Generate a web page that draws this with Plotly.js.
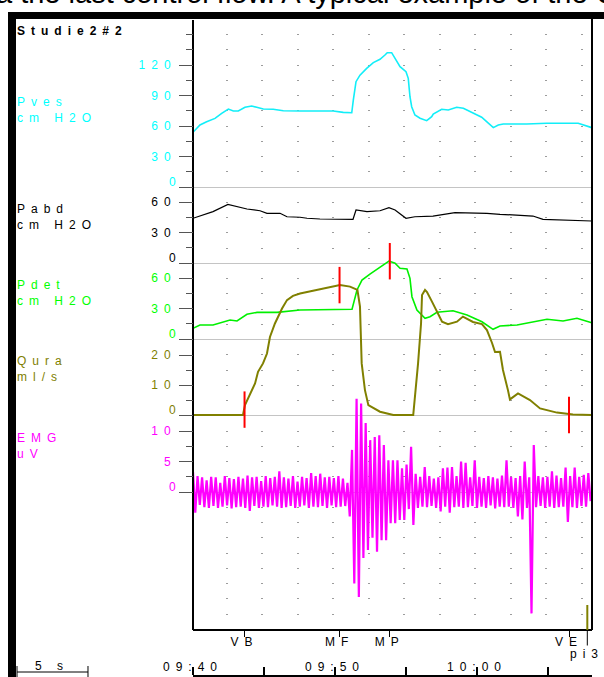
<!DOCTYPE html>
<html><head><meta charset="utf-8">
<script src="https://cdn.plot.ly/plotly-3.0.1.min.js"></script>
<style>
html,body{margin:0;padding:0;background:#fff;overflow:hidden;}
#chart{width:604px;height:677px;}
.main-svg text{letter-spacing:6px;}
.annotation[data-index="0"] text{letter-spacing:0px !important;}
</style></head><body><div id="chart"></div>
<script>
// ---------------- DATA ----------------
const channelNames = ['Pves', 'Pabd', 'Pdet', 'Qura', 'EMG'];
const channelUnits = ['cm H2O', 'cm H2O', 'cm H2O', 'ml/s', 'uV'];

const pvesT = [0,0.49,0.96,1.55,2.02,2.49,2.84,3.19,3.66,4.13,4.49,4.95,5.65,6.36,7.54,8.94,9.88,10.58,11.06,11.18,11.29,11.48,11.76,12.23,12.70,13.17,13.52,13.68,13.99,14.23,14.58,15.00,15.16,15.28,15.40,15.63,15.99,16.46,16.81,16.92,17.51,17.98,18.57,19.04,19.74,20.33,20.68,21.15,21.50,21.85,23.50,24.91,27.13,27.73,28.08];
const pvesV = [53.8,61,64.2,67.5,72.5,76.7,74.8,74.8,78.4,79.7,78.4,76.7,76.4,75,74.8,74.8,74.8,73.4,72.5,73,85.5,103.6,110,116.7,122.3,125.6,129.8,132.1,132.1,126.6,118.3,113.4,106.9,88.8,79,70.8,67.6,65.2,69.1,71.8,76.4,75.7,78.4,77.4,72.5,68.6,64.3,58.4,61,62,62,62.7,62.7,60,58.4];

const pabdT = [0,0.49,1.41,2.46,3.31,3.80,4.72,5.21,6.13,6.62,7.54,8.03,8.94,9.86,11.06,11.27,11.48,12.25,13.17,13.80,14.23,14.70,15.00,15.63,16.90,18.45,20.70,21.62,23.94,24.65,27.04,28.08];
const pabdV = [44,46.2,50.5,57.7,54.4,53.1,51.4,48.9,48.9,45.5,45,44,43.3,43.3,43,43,52.1,50.5,51.4,54.4,52.1,47.2,44,45.5,46.2,49.5,48.9,47.9,46.2,43,42.3,41.3];

const pdetT = [0,0.49,1.41,2.61,3.10,3.80,4.51,5.92,7.54,11.06,11.20,11.55,11.90,12.46,13.17,13.80,14.23,14.58,15.07,15.28,15.42,15.77,16.34,16.69,17.18,17.89,18.31,19.30,20.35,21.13,21.62,22.82,24.93,26.06,27.04,28.08];
const pdetV = [10.5,13.8,13.8,18.7,17.7,24.3,26.2,26.2,28.5,29.2,29.2,48.2,58,63.9,70.5,76.7,74.5,69.5,68.9,59.7,41.6,28.5,20.4,21.9,26.3,26.9,27.8,23.6,17,9.5,12.8,13.8,19.4,17.7,20.4,16];

const quraT = [0,3.52,3.66,4.01,4.37,4.58,4.93,5.21,5.42,5.77,6.27,6.62,7.04,7.54,8.03,9.08,10.35,11.06,11.58,11.76,11.88,12.11,12.35,13.17,14.11,15.51,15.70,15.85,16.06,16.13,16.34,16.48,16.83,17.18,17.54,17.96,18.59,19.01,19.72,20.35,20.70,21.06,21.27,21.62,21.83,22.18,22.32,22.89,23.73,24.44,25.63,26.76,28.08];
const quraV = [0,0,3.3,6.7,10.5,14.4,17.2,20.5,26,30.5,35.5,38.3,39.7,40.5,41,42.2,43.3,42.8,41.7,36.1,17.2,8.3,3.3,1.1,0,0,8.9,17.2,30.5,40,41.7,41,37.8,34.4,31.1,30.3,31.1,32.8,31,30.3,28.3,24,21,21.1,15,8.3,5.2,7.2,5,2.2,0.8,0.2,0];

// EMG sampled signal: first sample time and sample interval (s)
const emgStartT = 0;
const emgSampleDt = 0.16;
const emgV = [3.3,-3.4,2.6,-2.1,2.4,-2.5,1.9,-2.6,2.5,-2.3,
  2.4,-2.6,1.5,-2.4,2.6,-2.2,2.3,-2.7,2.1,-2.5,
  2.5,-2.4,2.2,-2.6,2.7,-3.1,2.4,-2.3,2.5,-2.6,
  1.8,-2.4,2.6,-2.5,2.3,-2.2,2.5,-2.4,3.4,-2.6,
  2.4,-2.5,2.2,-2.3,2.6,-2.6,1.7,-2.4,2.5,-2.2,
  2.3,-2.6,3.1,-2.4,2.6,-2.5,3.0,-2.3,2.4,-2.6,
  2.5,-2.2,2.3,-2.5,2.6,-2.4,2.2,-2.3,
  1.5,-4.0,6.9,-15.0,15.3,-17.2,14.5,-10.8,11.3,-9.5,
  8.5,-7.5,9.0,-9.8,9.3,-7.9,7.7,-7.9,5.2,-5.1,
  5.2,-5.1,5.2,-4.6,3.9,-4.6,4.5,-2.8,7.4,-5.4,
  3.0,-2.6,
  2.5,-2.4,4.1,-2.5,2.6,-2.3,2.2,-2.6,2.4,-3.2,
  3.9,-2.4,4.0,-3.4,4.1,-2.5,2.6,-2.4,5.0,-2.6,
  4.8,-2.5,2.4,-2.3,5.2,-2.6,2.5,-2.4,2.3,-2.6,
  2.6,-2.2,2.4,-2.7,2.2,-2.4,2.7,-2.5,5.2,-2.4,
  2.5,-2.6,2.3,-4.0,2.6,-4.5,5.0,-2.6,2.4,-19.9,
  7.7,-2.5,2.6,-2.3,2.4,-2.6,2.5,-2.4,3.4,-2.6,
  2.7,-2.5,2.3,-2.4,4.0,-4.9,2.6,-2.5,4.0,-2.6,
  2.5,-2.3,2.8,-2.4,3.1,-1.5];

const eventNames = ['VB', 'MF', 'MP', 'VE'];
const eventTimes = [3.63, 10.32, 13.86, 26.48];
const eventChannel = ['Qura', 'Qura', 'Pdet', 'Qura'];
const eventValue = [1.8, 43.3, 76.5, 0];
const extraMarkName = 'pi3';
const extraMarkTime = 27.77;

const timeTickVals = [0, 5, 10, 15, 20, 25];
const timeTickText = ['09:40', '', '09:50', '', '10:00', ''];
const scaleBarSeconds = 5;
const scaleBarLabel = '5 s';
const studyName = 'Studie2#2';
const captionText = 'a the last control flow. A typical example of the U';

const pvesMajor = [0, 30, 60, 90, 120];   const pvesMinor = [15, 45, 75, 105, 135, 150];
const pabdMajor = [0, 30, 60];            const pabdMinor = [15, 45];
const pdetMajor = [0, 30, 60];            const pdetMinor = [15, 45];
const quraMajor = [0, 10, 20];            const quraMinor = [5, 15];
const emgMajor  = [0, 5, 10];             const emgMinor  = [2.5, 7.5];

// ---------------- LAYOUT GEOMETRY / STYLE ----------------
const W = 604, H = 677;
const PL = 193, PR = 592, PT = 20, PB = 676, CHB = 630; // pixel frame
const tMax = 28.1;
const FONT = 'Liberation Sans, Arial, sans-serif';
const px2x = px => (px - PL) / (PR - PL);
const px2y = py => (PB - py) / (PB - PT);
const dBot = px2y(CHB);

const chan = {
  Pves: {axis: 'y2', zeroPx: 187, ppu: 1.0167, color: '#00FFFF', line: '#12EEF8', width: 1.6, major: pvesMajor, minor: pvesMinor, t: pvesT, v: pvesV, labelPx: 109.5},
  Pabd: {axis: 'y3', zeroPx: 263, ppu: 1.0167, color: '#000000', line: '#000000', width: 1.2, major: pabdMajor, minor: pabdMinor, t: pabdT, v: pabdV, labelPx: 216.5},
  Pdet: {axis: 'y4', zeroPx: 339, ppu: 1.0167, color: '#00FF00', line: '#00F000', width: 1.6, major: pdetMajor, minor: pdetMinor, t: pdetT, v: pdetV, labelPx: 293.2},
  Qura: {axis: 'y5', zeroPx: 415, ppu: 3.0,    color: '#808000', line: '#808000', width: 2.0, major: quraMajor, minor: quraMinor, t: quraT, v: quraV, labelPx: 369.5},
  EMG:  {axis: 'y6', zeroPx: 492, ppu: 6.1,    color: '#FF00FF', line: '#FF00FF', width: 2.2, major: emgMajor, minor: emgMinor, t: emgV.map((_, i) => emgStartT + i * emgSampleDt), v: emgV, labelPx: 445.5}
};
const rangeOf = c => [-(CHB - c.zeroPx) / c.ppu, (c.zeroPx - PT) / c.ppu];
const axKey = a => 'yaxis' + a.slice(1);

// ---------------- TRACES ----------------
const traces = [
  {x: [], y: [], xaxis: 'x', yaxis: 'y', type: 'scatter', mode: 'lines', hoverinfo: 'skip'},
  {x: [], y: [], xaxis: 'x2', yaxis: 'y', type: 'scatter', mode: 'lines', hoverinfo: 'skip'}
];
channelNames.forEach(n => {
  const c = chan[n];
  traces.push({x: c.t, y: c.v, xaxis: 'x', yaxis: c.axis, type: 'scatter', mode: 'lines',
    line: {color: c.line, width: c.width}, name: n, hoverinfo: 'skip'});
});
// event markers (red vertical marks on the curves)
['Qura', 'Pdet'].forEach(n => {
  const idx = eventNames.map((_, i) => i).filter(i => eventChannel[i] === n);
  traces.push({x: idx.map(i => eventTimes[i]), y: idx.map(i => eventValue[i]), xaxis: 'x', yaxis: chan[n].axis,
    type: 'scatter', mode: 'markers', hoverinfo: 'skip',
    marker: {symbol: 'line-ns', size: 26, color: '#FF0000', line: {color: '#FF0000', width: 2}}});
});

// ---------------- LAYOUT ----------------
const layout = {
  width: W, height: H,
  margin: {l: PL, r: W - PR, t: PT, b: H - PB, pad: 0},
  paper_bgcolor: '#ffffff', plot_bgcolor: 'rgba(0,0,0,0)',
  showlegend: false,
  font: {family: FONT, size: 12, color: '#000'},
  xaxis: {domain: [0, 1], range: [0, tMax], anchor: 'free', position: dBot, showline: true, linecolor: '#000', linewidth: 2,
    ticks: 'outside', ticklen: 6, tickwidth: 1, tickcolor: '#000', tickmode: 'array', tickvals: eventTimes, ticktext: eventNames,
    ticklabelstandoff: -5, tickfont: {family: FONT, size: 12, color: '#000'}, showgrid: false, zeroline: false, fixedrange: true},
  xaxis2: {overlaying: 'x', range: [0, tMax], anchor: 'free', position: 0, side: 'top', showline: true, linecolor: '#000', linewidth: 2,
    ticks: 'outside', ticklen: 8, tickwidth: 2, tickcolor: '#000', tickmode: 'array', tickvals: timeTickVals, ticktext: timeTickText,
    ticklabelstandoff: -9, tickfont: {family: FONT, size: 12, color: '#000'}, showgrid: false, zeroline: false, fixedrange: true},
  yaxis: {domain: [dBot, 1], range: rangeOf(chan.Pves), anchor: 'free', position: 0, tickmode: 'linear', tick0: 0, dtick: 15,
    showgrid: true, gridcolor: '#9c9c9c', gridwidth: 1, griddash: '0px,32.8px,2px,0.7px', showticklabels: false, ticks: '',
    zeroline: false, showline: true, linecolor: '#000', linewidth: 2, fixedrange: true},
  shapes: [], annotations: []
};
channelNames.forEach(n => {
  const c = chan[n];
  layout[axKey(c.axis)] = {
    overlaying: 'y', domain: [dBot, 1], range: rangeOf(c), anchor: 'free', position: 0, side: 'left',
    showgrid: false, zeroline: true, zerolinecolor: '#c4c4c4', zerolinewidth: 1, showline: false,
    ticks: 'outside', ticklen: 14, tickwidth: 1, tickcolor: '#555', tickmode: 'array',
    tickvals: c.major, ticktext: c.major.map(v => v === 0 ? '' : String(v)),
    tickfont: {family: FONT, size: 12, color: c.color},
    minor: {tickmode: 'array', tickvals: c.minor, ticks: 'outside', ticklen: 7, tickwidth: 1, tickcolor: '#555', showgrid: false},
    fixedrange: true
  };
});

// frame shapes
const S = layout.shapes;
S.push({type: 'rect', xref: 'paper', yref: 'paper', x0: px2x(8), x1: px2x(W), y0: px2y(19), y1: px2y(12), fillcolor: '#000', line: {width: 0}});
S.push({type: 'rect', xref: 'paper', yref: 'paper', x0: px2x(8), x1: px2x(16), y0: px2y(H + 2), y1: px2y(12), fillcolor: '#000', line: {width: 0}});
S.push({type: 'line', xref: 'paper', yref: 'paper', x0: 1, x1: 1, y0: dBot, y1: px2y(19), line: {color: '#000', width: 2}});
// olive mark above pi3
S.push({type: 'line', xref: 'x', yref: 'paper', x0: extraMarkTime, x1: extraMarkTime, y0: dBot, y1: px2y(605), line: {color: chan.Qura.color, width: 2}});
// 5 s scale bar (length from the x scale)
const sbX0 = px2x(17), sbX1 = sbX0 + scaleBarSeconds / tMax;
S.push({type: 'line', xref: 'paper', yref: 'paper', x0: sbX0, x1: sbX1, y0: px2y(672), y1: px2y(672), line: {color: '#000', width: 1}});
S.push({type: 'line', xref: 'paper', yref: 'paper', x0: sbX0, x1: sbX0, y0: px2y(666), y1: px2y(678), line: {color: '#000', width: 1}});
S.push({type: 'line', xref: 'paper', yref: 'paper', x0: sbX1, x1: sbX1, y0: px2y(666), y1: px2y(678), line: {color: '#000', width: 1}});

const A = layout.annotations;
// 0: caption (cut off at top, as in the source page)
A.push({text: captionText, xref: 'paper', yref: 'paper', x: px2x(-6), y: px2y(-7), xanchor: 'left', yanchor: 'middle',
  align: 'left', showarrow: false, font: {family: FONT, size: 29, color: '#000'}});
A.push({text: studyName, xref: 'paper', yref: 'paper', x: px2x(15), y: px2y(31), xanchor: 'left', yanchor: 'middle',
  align: 'left', showarrow: false, font: {family: FONT, size: 12, color: '#000', weight: 'bold'}});
channelNames.forEach((n, i) => {
  const c = chan[n];
  A.push({text: n + '<br>' + channelUnits[i], xref: 'paper', yref: 'paper', x: px2x(15), y: px2y(c.labelPx), xanchor: 'left', yanchor: 'middle',
    align: 'left', showarrow: false, font: {family: FONT, size: 12, color: c.color}});
});
channelNames.forEach(n => {
  const c = chan[n];
  A.push({text: '0', xref: 'paper', yref: c.axis, x: px2x(181), y: 0, yshift: 5, xanchor: 'right', yanchor: 'middle',
    showarrow: false, font: {family: FONT, size: 12, color: c.color}});
});
A.push({text: extraMarkName, xref: 'x', yref: 'paper', x: extraMarkTime, y: dBot, showarrow: true, arrowhead: 0, arrowwidth: 1,
  arrowcolor: '#000', ax: 0, ay: 24, font: {family: FONT, size: 12, color: '#000'}});
A.push({text: scaleBarLabel, xref: 'paper', yref: 'paper', x: (sbX0 + sbX1) / 2, y: px2y(666), xanchor: 'center', yanchor: 'middle',
  showarrow: false, font: {family: FONT, size: 12, color: '#000'}});

Plotly.newPlot('chart', traces, layout, {staticPlot: true, displayModeBar: false});
</script></body></html>
